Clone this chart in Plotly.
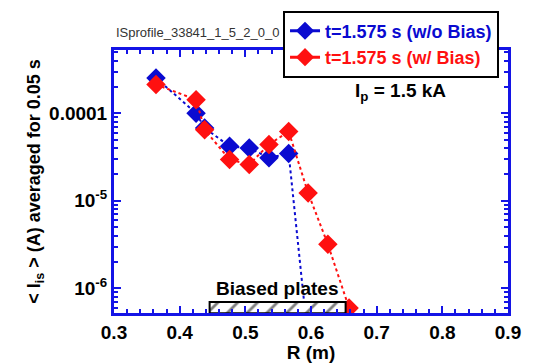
import plotly.graph_objects as go

# Data
r_wo = [0.364, 0.425, 0.438, 0.476, 0.506, 0.536, 0.566, 0.5915]
is_wo = [2.53e-4, 1.0e-4, 6.8e-5, 4.2e-5, 4.0e-5, 3.1e-5, 3.46e-5, 5.0e-7]
r_w = [0.364, 0.425, 0.438, 0.476, 0.506, 0.536, 0.566, 0.5956, 0.6257, 0.658]
is_w = [2.13e-4, 1.43e-4, 6.5e-5, 2.96e-5, 2.6e-5, 4.4e-5, 6.2e-5, 1.23e-5, 3.18e-6, 5.95e-7]

plates_r = [0.4456, 0.6527]
plates_i = [5.2e-7, 6.97e-7]

name_wo = "t=1.575 s (w/o Bias)"
name_w = "t=1.575 s (w/ Bias)"

BLUE = "#0a0ad0"
RED = "#ff1010"
AX = "#1414e6"
FONT = "Liberation Sans, Arial, sans-serif"
FS = 19

fig = go.Figure()
fig.add_trace(go.Scatter(x=r_wo, y=is_wo, mode="lines+markers", showlegend=False,
                         line=dict(color=BLUE, width=2, dash="dot"),
                         marker=dict(symbol="diamond", size=15, color=BLUE)))
fig.add_trace(go.Scatter(x=r_w, y=is_w, mode="lines+markers", showlegend=False,
                         line=dict(color=RED, width=2, dash="dot"),
                         marker=dict(symbol="diamond", size=15, color=RED)))
# biased plates box
fig.add_trace(go.Scatter(
    x=[plates_r[0], plates_r[1], plates_r[1], plates_r[0], plates_r[0]],
    y=[plates_i[0], plates_i[0], plates_i[1], plates_i[1], plates_i[0]],
    mode="lines", fill="toself", fillcolor="white", showlegend=False,
    line=dict(color="black", width=2),
    fillpattern=dict(shape="/", fgcolor="black", bgcolor="white", size=14, solidity=0.2),
    hoverinfo="skip"))
# legend-only entries
fig.add_trace(go.Scatter(x=[None], y=[None], mode="lines+markers",
                         name=f"<span style='color:{BLUE}'>{name_wo}</span>",
                         line=dict(color=BLUE, width=3),
                         marker=dict(symbol="diamond", size=14, color=BLUE)))
fig.add_trace(go.Scatter(x=[None], y=[None], mode="lines+markers",
                         name=f"<span style='color:{RED}'>{name_w}</span>",
                         line=dict(color=RED, width=3),
                         marker=dict(symbol="diamond", size=14, color=RED)))

axis_common = dict(showline=True, linecolor=AX, linewidth=3, mirror="allticks",
                   ticks="inside", tickcolor=AX, tickwidth=2, ticklen=7,
                   showgrid=False, zeroline=False,
                   tickfont=dict(family=FONT, size=FS, color="black", weight="bold"))

fig.update_xaxes(range=[0.3, 0.9], dtick=0.1, tickformat=".1f",
                 minor=dict(ticks="inside", dtick=0.02, ticklen=4, tickcolor=AX, tickwidth=2),
                 title=dict(text="R (m)", font=dict(family=FONT, size=FS, color="black", weight="bold"),
                            standoff=0),
                 **axis_common)
fig.update_yaxes(type="log", range=[-6.282, -3.277],
                 tickvals=[1e-6, 1e-5, 1e-4],
                 ticktext=["10<sup>-6</sup>", "10<sup>-5</sup>", "0.0001"],
                 minor=dict(ticks="inside", dtick="D1", ticklen=4, tickcolor=AX, tickwidth=2),
                 title=dict(text="&lt; I<sub>is</sub> &gt; (A) averaged for 0.05 s",
                            font=dict(family=FONT, size=18, color="black", weight="bold"),
                            standoff=4),
                 **axis_common)

fig.add_annotation(x=0.0, y=1.065, xref="paper", yref="paper", xanchor="left", yanchor="middle",
                   text="ISprofile_33841_1_5_2_0_0", showarrow=False,
                   font=dict(family=FONT, size=13, color="#333333"))
fig.add_annotation(x=0.726, y=0.84, xref="paper", yref="paper", xanchor="center", yanchor="middle",
                   text="I<sub>p</sub> = 1.5 kA", showarrow=False,
                   font=dict(family=FONT, size=FS, color="black", weight="bold"))
fig.add_annotation(x=sum(plates_r) / 2, y=0.095, xref="x", yref="paper", xanchor="center",
                   yanchor="middle", text="Biased plates", showarrow=False,
                   font=dict(family=FONT, size=FS, color="black", weight="bold"))

fig.update_layout(
    width=534, height=363,
    margin=dict(l=114, r=26, t=50, b=50, autoexpand=False),
    paper_bgcolor="white", plot_bgcolor="white",
    legend=dict(x=0.429, y=1.15, xanchor="left", yanchor="top",
                bgcolor="white", bordercolor="black", borderwidth=2,
                font=dict(family=FONT, size=18, weight="bold"),
                tracegroupgap=0, itemwidth=30),
)

fig.write_html("out.html")
